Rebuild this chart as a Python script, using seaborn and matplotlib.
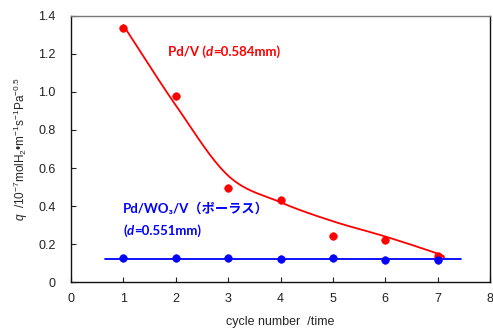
import numpy as np
import matplotlib
matplotlib.use('Agg')
import matplotlib.pyplot as plt
import seaborn as sns

# data
cycles = [1, 2, 3, 4, 5, 6, 7]
q_pdv = [1.335, 0.977, 0.495, 0.432, 0.245, 0.222, 0.14]
q_pdwo3v = [0.125, 0.125, 0.125, 0.12, 0.125, 0.115, 0.115]
# smoothed trend line for Pd/V as drawn in the reference
trend_cycles = [1, 2, 3, 4, 5, 6, 7, 7.12]
trend_pdv = [1.35, 0.93, 0.56, 0.42, 0.32, 0.24, 0.15, 0.13]
xticks = [0, 1, 2, 3, 4, 5, 6, 7, 8]
yticks = [0, 0.2, 0.4, 0.6, 0.8, 1.0, 1.2, 1.4]
ytick_labels = ['0', '0.2', '0.4', '0.6', '0.8', '1.0', '1.2', '1.4']

sns.set_style('ticks')
plt.rcParams['font.family'] = ['Liberation Sans', 'DejaVu Sans']
plt.rcParams['mathtext.fontset'] = 'custom'
plt.rcParams['mathtext.rm'] = 'Liberation Sans'
plt.rcParams['mathtext.it'] = 'Liberation Sans:italic'


def smooth(xp, yp, n=20):
    # catmull-rom style smoothing, like a spreadsheet "smoothed line"
    xp = np.asarray(xp, float)
    yp = np.asarray(yp, float)
    px = np.concatenate([[2 * xp[0] - xp[1]], xp, [2 * xp[-1] - xp[-2]]])
    py = np.concatenate([[2 * yp[0] - yp[1]], yp, [2 * yp[-1] - yp[-2]]])
    ox, oy = [], []
    t = np.linspace(0, 1, n, endpoint=False)
    for i in range(1, len(px) - 2):
        for arr, out in ((px, ox), (py, oy)):
            p0, p1, p2, p3 = arr[i - 1], arr[i], arr[i + 1], arr[i + 2]
            out.extend(0.5 * (2 * p1 + (-p0 + p2) * t + (2 * p0 - 5 * p1 + 4 * p2 - p3) * t ** 2
                              + (-p0 + 3 * p1 - 3 * p2 + p3) * t ** 3))
    ox.append(xp[-1])
    oy.append(yp[-1])
    return np.array(ox), np.array(oy)


fig = plt.figure(figsize=(4.93, 3.30), dpi=100)
ax = fig.add_axes([0.144, 0.145, 0.850, 0.807])

red = '#ff0000'
blue = '#0000ff'

sx, sy = smooth(trend_cycles, trend_pdv)
ax.plot(sx, sy, color=red, lw=1.3)
sns.scatterplot(x=cycles, y=q_pdv, color=red, s=30, edgecolor=red, zorder=3, ax=ax)

mean_b = float(np.mean(q_pdwo3v))
sns.lineplot(x=[0.65, 7.45], y=[mean_b, mean_b], color=blue, lw=1.3, ax=ax)
sns.scatterplot(x=cycles, y=q_pdwo3v, color=blue, s=30, edgecolor=blue, zorder=3, ax=ax)

ax.set_xlim(0, 8)
ax.set_ylim(0, 1.4)
ax.set_xticks(xticks)
ax.set_yticks(yticks)
ax.set_yticklabels(ytick_labels)
ax.tick_params(direction='in', length=3.5, labelsize=9, colors='#222222')
ax.tick_params(axis='x', pad=8)
ax.tick_params(axis='y', pad=11)
for s in ax.spines.values():
    s.set_color('#111111')
    s.set_linewidth(1.0)
ax.spines['top'].set_color('#777777')

ax.set_xlabel('cycle number  /time', fontsize=9, labelpad=8)
ax.set_ylabel(r'$\it{q}$  /10$^{-7}$molH$_2$•m$^{-1}$s$^{-1}$Pa$^{-0.5}$',
              fontsize=8.5, labelpad=6)

# annotations, built from pieces so that "d" is italic
jp = ['Lato', 'Noto Sans CJK JP', 'DejaVu Sans']
it = ['Lato', 'DejaVu Sans']


def label(x, y, parts, color):
    t = ax.text(x, y, parts[0], color=color, fontsize=9.5, fontweight='bold',
                family=jp, va='baseline')
    for k, txt in enumerate(parts[1:]):
        italic = k % 2 == 0
        t = ax.annotate(txt, xy=(1, 0), xycoords=t, va='bottom', ha='left',
                        color=color, fontsize=9.5, fontweight='bold',
                        family=it if italic else jp,
                        style='italic' if italic else 'normal')
    return t


label(1.85, 1.19, ['Pd/V (', 'd', '=0.584mm)'], red)
label(1.0, 0.365, ['Pd/WO₃/V（ポーラス）'], blue)
label(1.0, 0.25, ['(', 'd', '=0.551mm)'], blue)

fig.savefig('out.png', dpi=100)
